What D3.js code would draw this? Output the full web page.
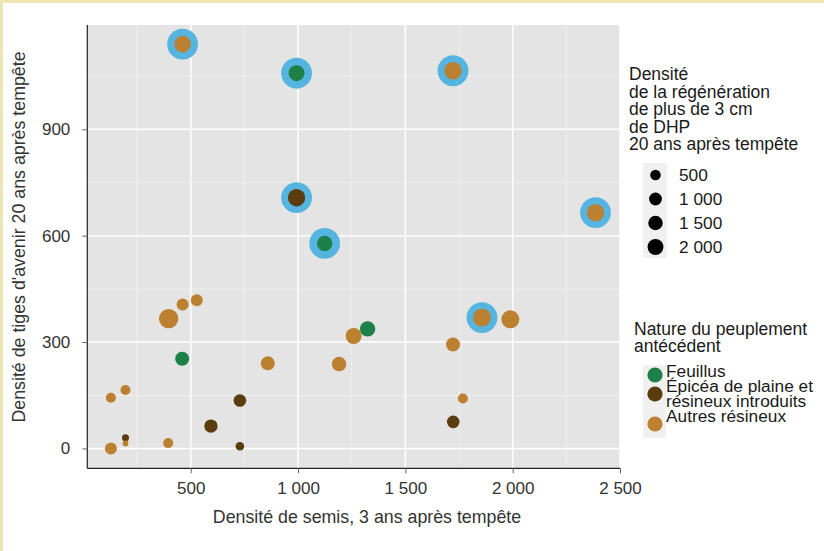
<!DOCTYPE html>
<html>
<head>
<meta charset="utf-8">
<script src="https://cdn.jsdelivr.net/npm/d3@7"></script>
<style>
  body { margin: 0; background: #fff; }
  svg { display: block; font-family: "Liberation Sans", Arial, sans-serif; }
</style>
</head>
<body>
<div id="chart"></div>
<script>
// densité de semis (x), tiges d'avenir (y), régénération (taille), nature, surligné
var semis  = [462, 993, 1722, 993, 1124, 2386, 1857, 462, 528, 397, 460, 859, 1191, 1259, 1324, 1722, 1989, 1768, 1723, 128, 196, 196, 196, 128, 395, 594, 729, 729]
var tiges  = [1140, 1058, 1065, 707, 578, 665, 369, 406, 418, 366, 253, 240, 238, 317, 337, 293, 364, 141, 75, 143, 165, 30, 14, 0, 15, 63, 135, 6]
var regen  = [2250, 2000, 2580, 2580, 1800, 2580, 2840, 800, 800, 3500, 1340, 1340, 1530, 2020, 1800, 1340, 2840, 400, 950, 400, 400, 60, 5, 800, 400, 1170, 950, 200]
var nature = ["A", "F", "A", "E", "F", "A", "A", "A", "A", "A", "F", "A", "A", "A", "F", "A", "A", "A", "E", "A", "A", "E", "A", "A", "A", "E", "E", "E"]
var surligne = [1, 1, 1, 1, 1, 1, 1, 0, 0, 0, 0, 0, 0, 0, 0, 0, 0, 0, 0, 0, 0, 0, 0, 0, 0, 0, 0, 0]

var natureCodes = ["F", "E", "A"]
var natureLabels = [["Feuillus"], ["Épicéa de plaine et", "résineux introduits"], ["Autres résineux"]]
var natureColors = ["#1d8048", "#5a3c0e", "#bb8030"]
var sizeBreaks = [500, 1000, 1500, 2000]
var xTicks = [500, 1000, 1500, 2000, 2500]
var xMinor = [250, 750, 1250, 1750, 2250]
var yTicks = [0, 300, 600, 900]
var yMinor = [150, 450, 750, 1050]

var W = 824, H = 551
var panel = {left: 87.3, right: 620, top: 25, bottom: 468.3}

var fr = d3.formatLocale({decimal: ",", thousands: " ", grouping: [3], currency: ["", " €"]})
var fmt = fr.format(",d")

var svg = d3.select("#chart").append("svg")
    .attr("width", W)
    .attr("height", H)

// cadre jaune
svg.append("rect").attr("x", 0).attr("y", 0).attr("width", W).attr("height", 3).attr("fill", "#ebe6b4")
svg.append("rect").attr("x", 0).attr("y", 0).attr("width", 3).attr("height", H).attr("fill", "#ebe6b4")

var x = d3.scaleLinear().domain([18, 2500]).range([panel.left, panel.right])
var y = d3.scaleLinear().domain([-56, 1194]).range([panel.bottom, panel.top])
var r = d3.scaleSqrt().domain([0, 3600]).range([2.6, 9.8])
var color = d3.scaleOrdinal().domain(natureCodes).range(natureColors)

svg.append("rect")
    .attr("x", panel.left).attr("y", panel.top)
    .attr("width", panel.right - panel.left)
    .attr("height", panel.bottom - panel.top)
    .attr("fill", "#e4e4e4")

// grille
var grid = svg.append("g")
grid.selectAll(".vmin").data(xMinor).enter().append("line")
    .attr("x1", d => x(d)).attr("x2", d => x(d))
    .attr("y1", panel.top).attr("y2", panel.bottom)
    .attr("stroke", "#f2f2f2").attr("stroke-width", 0.8)
grid.selectAll(".hmin").data(yMinor).enter().append("line")
    .attr("y1", d => y(d)).attr("y2", d => y(d))
    .attr("x1", panel.left).attr("x2", panel.right)
    .attr("stroke", "#f2f2f2").attr("stroke-width", 0.8)
grid.selectAll(".vmaj").data(xTicks).enter().append("line")
    .attr("x1", d => x(d)).attr("x2", d => x(d))
    .attr("y1", panel.top).attr("y2", panel.bottom)
    .attr("stroke", "#fff").attr("stroke-width", 1.5)
grid.selectAll(".hmaj").data(yTicks).enter().append("line")
    .attr("y1", d => y(d)).attr("y2", d => y(d))
    .attr("x1", panel.left).attr("x2", panel.right)
    .attr("stroke", "#fff").attr("stroke-width", 1.5)

// axes
var xAxis = svg.append("g")
    .attr("transform", "translate(0," + panel.bottom + ")")
    .call(d3.axisBottom(x).tickValues(xTicks).tickFormat(fmt).tickSize(5).tickPadding(9))
var yAxis = svg.append("g")
    .attr("transform", "translate(" + panel.left + ",0)")
    .call(d3.axisLeft(y).tickValues(yTicks).tickFormat(fmt).tickSize(5).tickPadding(12))
;[xAxis, yAxis].forEach(function(a) {
    a.select(".domain").attr("stroke", "#222").attr("stroke-width", 1.2)
    a.selectAll(".tick line").attr("stroke", "#666")
    a.selectAll(".tick text").attr("fill", "#333").style("font-size", "17px")
        .style("font-family", "'Liberation Sans', Arial, sans-serif")
})
xAxis.select(".domain").attr("d", "M" + panel.left + ",0H" + panel.right)
yAxis.select(".domain").attr("d", "M0," + panel.top + "V" + panel.bottom)

svg.append("text")
    .attr("x", 367)
    .attr("y", 523)
    .attr("text-anchor", "middle")
    .attr("fill", "#333")
    .style("font-size", "17.8px")
    .text("Densité de semis, 3 ans après tempête")

svg.append("text")
    .attr("transform", "translate(25,237) rotate(-90)")
    .attr("text-anchor", "middle")
    .attr("fill", "#333")
    .style("font-size", "17.8px")
    .text("Densité de tiges d'avenir 20 ans après tempête")

// points
var idx = d3.range(semis.length)
svg.append("g").selectAll("circle")
    .data(idx.filter(i => surligne[i]))
    .enter().append("circle")
    .attr("cx", i => x(semis[i]))
    .attr("cy", i => y(tiges[i]))
    .attr("r", 15.4)
    .attr("fill", "#55b5e0")

svg.append("g").selectAll("circle")
    .data(idx)
    .enter().append("circle")
    .attr("cx", i => x(semis[i]))
    .attr("cy", i => y(tiges[i]))
    .attr("r", i => r(regen[i]))
    .attr("fill", i => color(nature[i]))

// légende taille
var leg1 = svg.append("g").attr("fill", "#1a1a1a").style("font-size", "17.5px")
var t1 = ["Densité", "de la régénération", "de plus de 3 cm", "de DHP", "20 ans après tempête"]
leg1.selectAll("text.t").data(t1).enter().append("text")
    .attr("x", 629).attr("y", (d, i) => 80 + i * 17.6)
    .text(d => d)
leg1.append("rect").attr("x", 643).attr("y", 163).attr("width", 24).attr("height", 95).attr("fill", "#f0f0f0")
leg1.selectAll("circle").data(sizeBreaks).enter().append("circle")
    .attr("cx", 655.5).attr("cy", (d, i) => 175 + i * 24)
    .attr("r", d => r(d)).attr("fill", "#000")
leg1.selectAll("text.v").data(sizeBreaks).enter().append("text")
    .attr("x", 679).attr("y", (d, i) => 181 + i * 24)
    .style("font-size", "17.3px")
    .text(d => fmt(d))

// légende nature
var leg2 = svg.append("g").attr("fill", "#1a1a1a").style("font-size", "17.5px")
leg2.append("text").attr("x", 634).attr("y", 335).text("Nature du peuplement")
leg2.append("text").attr("x", 634).attr("y", 352).text("antécédent")
leg2.append("rect").attr("x", 643).attr("y", 365).attr("width", 23).attr("height", 73).attr("fill", "#f0f0f0")
var keyY = [375, 394, 424]
leg2.selectAll("circle").data(natureCodes).enter().append("circle")
    .attr("cx", 655).attr("cy", (d, i) => keyY[i])
    .attr("r", 7.6).attr("fill", d => color(d))
var lineY = [[377], [391.5], [406.5], [422]]
var lineIdx = 0
natureLabels.forEach(function(lines, i) {
    lines.forEach(function(l, j) {
        leg2.append("text").attr("x", 666).attr("y", lineY[lineIdx++][0])
            .style("font-size", "17.3px").text(l)
    })
})
</script>
</body>
</html>
